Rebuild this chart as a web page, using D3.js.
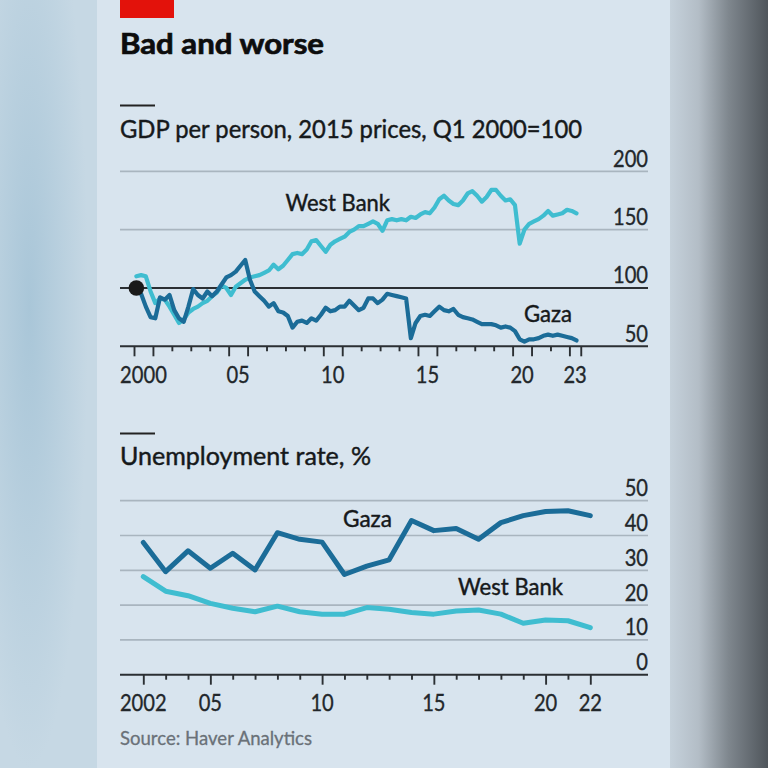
<!DOCTYPE html>
<html><head><meta charset="utf-8">
<script src="https://cdn.jsdelivr.net/npm/d3@7"></script>
<style>html,body{margin:0;padding:0;background:#c4d6e2;} body{width:768px;height:768px;overflow:hidden;}</style>
</head><body><svg id="c" width="768" height="768"></svg>
<script>
// ---------- DATA ----------
const gdpStartYear = 2000; // quarterly from Q1 2000 to Q2 2023
const gdpGaza = [100,95,84,75,74,92,90,94,81,74,
  71,84,99,94,91,97,93,97,103,109,
  111,114,119,124,107,97,93,89,84,87,
  80,79,76,66,71,72,70,74,72,77,
  83,80,81,84,84,89,85,81,83,91,
  91,87,90,95,94,93,92,91,57,70,
  76,77,76,80,84,81,80,82,77,75,
  74,73,71,69,69,69,68,66,67,66,
  63,56,54,56,56,57,59,60,59,60,
  59,58,57,55];
const gdpWestBank = [110,111,110,97,87,91,90,84,77,70,
  73,79,82,84,87,89,93,96,102,100,
  94,101,104,107,109,110,111,113,115,120,
  116,119,124,129,130,129,133,140,141,136,
  131,137,140,142,144,148,150,153,153,155,
  157,155,149,158,159,158,159,158,161,160,
  163,165,164,169,176,179,175,172,171,175,
  181,183,179,174,178,184,184,179,175,176,
  171,138,150,155,157,159,162,166,162,163,
  164,167,166,164];
const gdpYTicks = [50,100,150,200];
const gdpXTickYears = [2000,2005,2010,2015,2020,2023];
const gdpXTickLabels = ["2000","05","10","15","20","23"];

const unempYears = [2002,2003,2004,2005,2006,2007,2008,2009,2010,2011,2012,2013,2014,2015,2016,2017,2018,2019,2020,2021,2022];
const unempGaza = [38.0,29.6,35.6,30.6,34.9,30.1,40.8,38.9,38.1,28.8,31.2,33.0,44.3,41.4,42.0,38.9,43.7,45.7,46.9,47.1,45.7];
const unempWestBank = [28.2,24.0,22.7,20.5,19.1,18.1,19.7,18.1,17.4,17.4,19.3,18.8,17.9,17.4,18.3,18.6,17.4,14.8,15.7,15.5,13.5];
const unempYTicks = [0,10,20,30,40,50];
const unempXTickYears = [2002,2005,2010,2015,2020,2022];
const unempXTickLabels = ["2002","05","10","15","20","22"];

// ---------- STYLE ----------
const FONT = "Lato, 'Open Sans', Roboto, sans-serif";
const C_GAZA = "#1b6c98", C_WB = "#3fbdd0";
const C_GRID = "#a9b5bf", C_TEXT = "#16191b", C_AXIS = "#2b2f33";
const GL = 120, GR = 648;

const svg = d3.select("#c");
const defs = svg.append("defs");
const lg = defs.append("linearGradient").attr("id","rightbg").attr("x1",0).attr("x2",1).attr("y1",0).attr("y2",0);
[[0,"#c6d2dc"],[0.3,"#b3bdc6"],[0.6,"#7f878e"],[1,"#4f555b"]].forEach(s=>lg.append("stop").attr("offset",s[0]).attr("stop-color",s[1]));
const rg = defs.append("radialGradient").attr("id","leftbg").attr("cx",0.3).attr("cy",0.4).attr("r",0.6);
[[0,"#a9c6d8"],[1,"#c6d8e4"]].forEach(s=>rg.append("stop").attr("offset",s[0]).attr("stop-color",s[1]));

svg.append("rect").attr("x",0).attr("y",0).attr("width",768).attr("height",768).attr("fill","#c6d8e4");
svg.append("rect").attr("x",0).attr("y",0).attr("width",98).attr("height",768).attr("fill","url(#leftbg)");
svg.append("rect").attr("x",669).attr("y",0).attr("width",99).attr("height",768).attr("fill","url(#rightbg)");
svg.append("rect").attr("x",97).attr("y",0).attr("width",573).attr("height",768).attr("fill","#d8e4ee");

function fit(sel, w){ sel.attr("textLength", w).attr("lengthAdjust","spacingAndGlyphs"); return sel; }
function txt(x,y,s,size,opts={}){
  const col = opts.fill||C_TEXT;
  const t = svg.append("text").attr("x",x).attr("y",y).text(s)
    .attr("font-family",FONT).attr("font-size",size)
    .attr("fill",col).attr("font-weight",opts.weight||400)
    .attr("stroke",col).attr("stroke-width",opts.sw==null?0.45:opts.sw)
    .attr("text-anchor",opts.anchor||"start");
  if(opts.w) fit(t, opts.w);
  return t;
}

// header
svg.append("rect").attr("x",120).attr("y",0).attr("width",54).attr("height",18).attr("fill","#e3120b");
txt(120,54,"Bad and worse",29,{weight:700,w:204,fill:"#0d0d0d",sw:0.7});
svg.append("line").attr("x1",120).attr("x2",155).attr("y1",105.5).attr("y2",105.5).attr("stroke","#222").attr("stroke-width",2);
txt(120,138,"GDP per person, 2015 prices, Q1 2000=100",25.5,{w:462});

// condensed factor for tick labels
const probe = svg.append("text").attr("font-family",FONT).attr("font-size",24).text("2000");
const kCond = 46.7 / probe.node().getComputedTextLength();
probe.remove();
function tickLabel(x,y,s,anchor){
  const t = txt(x,y,s,24,{anchor:anchor||"middle",fill:"#22272b",sw:0.35});
  t.attr("textLength", t.node().getComputedTextLength()*kCond).attr("lengthAdjust","spacingAndGlyphs");
  return t;
}

// ---------- TOP CHART ----------
const xTop = d3.scaleLinear().domain([2000,2023]).range([134,569.4]);
const yTop = d3.scaleLinear().domain([50,200]).range([346.3,171.3]);
const qT = i => gdpStartYear + i/4 + 0.125;
const gdpEnd = qT(gdpGaza.length-1) + 0.225;

gdpYTicks.forEach(v=>{
  const dark = (v===100||v===50);
  svg.append("line").attr("x1",GL).attr("x2",GR).attr("y1",yTop(v)).attr("y2",yTop(v))
    .attr("stroke", dark ? C_AXIS : C_GRID).attr("stroke-width", dark ? 2 : 1.7);
  tickLabel(GR, yTop(v)-4.5, String(v), "end");
});

const allYearsTop = d3.range(2000,2024);
const tallTop = new Set([2000,2001,2005,2006,2010,2011,2015,2016,2020,2021,2023]);
const gTopAxis = svg.append("g").attr("transform",`translate(0,${yTop(50)})`);
gTopAxis.append("g").call(d3.axisBottom(xTop).tickValues(allYearsTop.filter(y=>!tallTop.has(y))).tickSize(5).tickFormat(""));
gTopAxis.append("g").call(d3.axisBottom(xTop).tickValues([...allYearsTop.filter(y=>tallTop.has(y)), gdpEnd]).tickSize(10).tickFormat(""));
gTopAxis.selectAll(".domain").remove();
gTopAxis.selectAll(".tick line").attr("stroke",C_AXIS).attr("stroke-width",1.9);
gdpXTickYears.forEach((yr,i)=>{
  const cx = (i===gdpXTickYears.length-1) ? (xTop(yr)+xTop(gdpEnd))/2 : xTop(yr+0.5);
  tickLabel(cx, 383, gdpXTickLabels[i]);
});

const lineTop = d3.line().x((d,i)=>xTop(qT(i))).y(d=>yTop(d));
svg.append("path").datum(gdpWestBank).attr("d",lineTop).attr("fill","none").attr("stroke",C_WB)
  .attr("stroke-width",4.2).attr("stroke-linejoin","round").attr("stroke-linecap","round");
svg.append("path").datum(gdpGaza).attr("d",lineTop).attr("fill","none").attr("stroke",C_GAZA)
  .attr("stroke-width",4.2).attr("stroke-linejoin","round").attr("stroke-linecap","round");
svg.append("circle").attr("cx",xTop(qT(0))).attr("cy",yTop(gdpGaza[0])).attr("r",7.8).attr("fill","#1a1a1a");

txt(285.5,210.6,"West Bank",24,{w:104.5});
txt(524,321.7,"Gaza",24,{w:48});

// ---------- BOTTOM CHART ----------
svg.append("line").attr("x1",120).attr("x2",155).attr("y1",433.4).attr("y2",433.4).attr("stroke","#222").attr("stroke-width",2);
txt(120,465,"Unemployment rate, %",25.5,{w:251});

const xBot = d3.scaleLinear().domain([2002,2022]).range([143.3,590.3]);
const yBot = d3.scaleLinear().domain([0,50]).range([674.7,500.7]);

unempYTicks.forEach(v=>{
  const dark = v===0;
  svg.append("line").attr("x1",GL).attr("x2",GR).attr("y1",yBot(v)).attr("y2",yBot(v))
    .attr("stroke", dark ? C_AXIS : C_GRID).attr("stroke-width", dark ? 2 : 1.7);
  tickLabel(GR, yBot(v)-4.5, String(v), "end");
});

const gBotAxis = svg.append("g").attr("transform",`translate(0,${yBot(0)})`);
const tallBot = new Set(unempXTickYears);
gBotAxis.append("g").call(d3.axisBottom(xBot).tickValues(unempYears.filter(y=>!tallBot.has(y))).tickSize(5).tickFormat(""));
gBotAxis.append("g").call(d3.axisBottom(xBot).tickValues(unempXTickYears).tickSize(10).tickFormat(""));
gBotAxis.selectAll(".domain").remove();
gBotAxis.selectAll(".tick line").attr("stroke",C_AXIS).attr("stroke-width",1.9);
unempXTickYears.forEach((yr,i)=> tickLabel(xBot(yr), 711, unempXTickLabels[i]));

const lineBot = d3.line().x((d,i)=>xBot(unempYears[i])).y(d=>yBot(d));
svg.append("path").datum(unempWestBank).attr("d",lineBot).attr("fill","none").attr("stroke",C_WB)
  .attr("stroke-width",5).attr("stroke-linejoin","round").attr("stroke-linecap","round");
svg.append("path").datum(unempGaza).attr("d",lineBot).attr("fill","none").attr("stroke",C_GAZA)
  .attr("stroke-width",5).attr("stroke-linejoin","round").attr("stroke-linecap","round");

txt(343,526.5,"Gaza",24,{w:49});
txt(458,595,"West Bank",24,{w:105});

txt(120,745,"Source: Haver Analytics",19.5,{fill:"#6a7178",w:192,sw:0.3});
</script></body></html>
